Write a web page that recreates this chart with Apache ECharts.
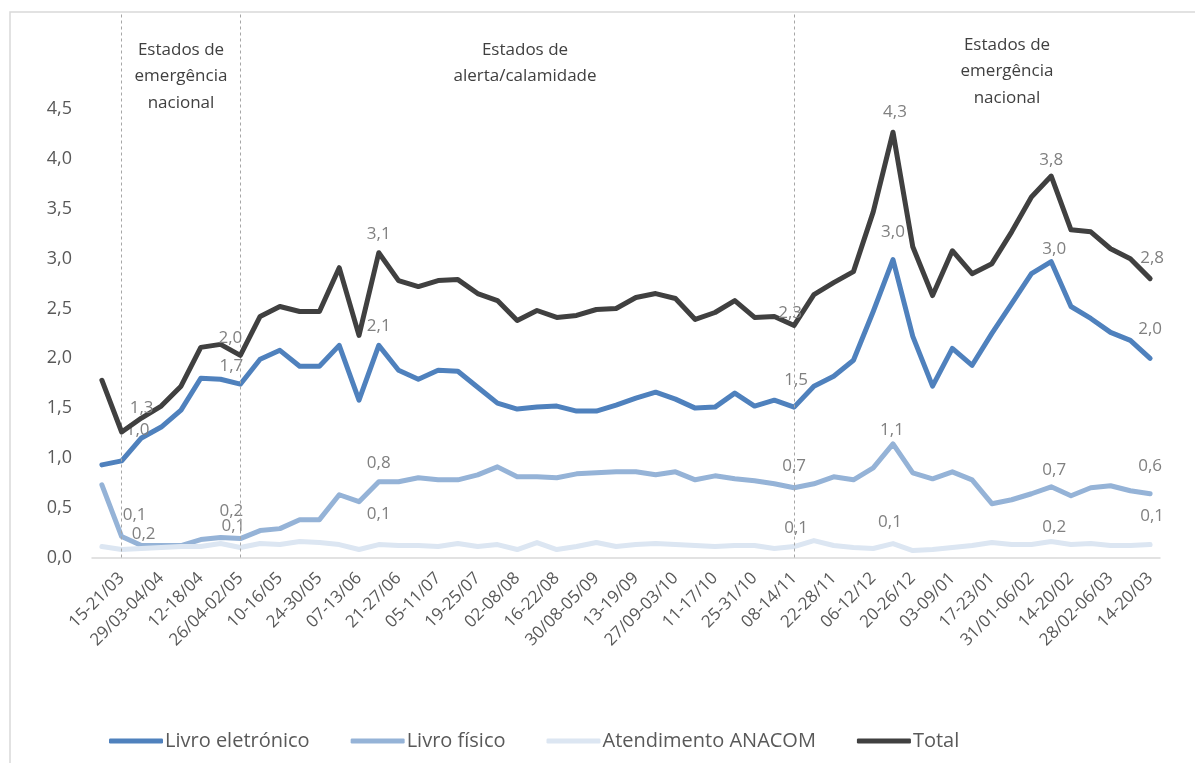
<!DOCTYPE html>
<html>
<head>
<meta charset="utf-8">
<script src="https://cdn.jsdelivr.net/npm/echarts@6/dist/echarts.min.js"></script>
<style>
html,body{margin:0;padding:0;background:#fff;}
#chart{width:1195px;height:763px;}
</style>
</head>
<body>
<div id="chart"></div>
<script>
// ---- data ----
const categories = ["08-14/03","15-21/03","22-28/03","29/03-04/04","05-11/04","12-18/04","19-25/04","26/04-02/05","03-09/05","10-16/05","17-23/05","24-30/05","31/05-06/06","07-13/06","14-20/06","21-27/06","28/06-04/07","05-11/07","12-18/07","19-25/07","26/07-01/08","02-08/08","09-15/08","16-22/08","23-29/08","30/08-05/09","06-12/09","13-19/09","20-26/09","27/09-03/10","04-10/10","11-17/10","18-24/10","25-31/10","01-07/11","08-14/11","15-21/11","22-28/11","29/11-05/12","06-12/12","13-19/12","20-26/12","27/12-02/01","03-09/01","10-16/01","17-23/01","24-30/01","31/01-06/02","07-13/02","14-20/02","21-27/02","28/02-06/03","07-13/03","14-20/03"];

const livroEletronico = [0.93,0.97,1.20,1.31,1.48,1.80,1.79,1.74,1.99,2.08,1.92,1.92,2.13,1.58,2.13,1.88,1.79,1.88,1.87,1.71,1.55,1.49,1.51,1.52,1.47,1.47,1.53,1.60,1.66,1.59,1.50,1.51,1.65,1.52,1.58,1.51,1.72,1.82,1.98,2.47,2.99,2.22,1.72,2.10,1.93,2.25,2.55,2.85,2.97,2.52,2.40,2.26,2.18,2.00];

const livroFisico = [0.73,0.21,0.12,0.12,0.12,0.18,0.20,0.19,0.27,0.29,0.38,0.38,0.63,0.56,0.76,0.76,0.80,0.78,0.78,0.83,0.91,0.81,0.81,0.80,0.84,0.85,0.86,0.86,0.83,0.86,0.78,0.82,0.79,0.77,0.74,0.70,0.74,0.81,0.78,0.90,1.14,0.85,0.79,0.86,0.78,0.54,0.58,0.64,0.71,0.62,0.70,0.72,0.67,0.64];

const atendimentoAnacom = [0.11,0.08,0.09,0.10,0.11,0.11,0.14,0.10,0.14,0.13,0.16,0.15,0.13,0.08,0.13,0.12,0.12,0.11,0.14,0.11,0.13,0.08,0.15,0.08,0.11,0.15,0.11,0.13,0.14,0.13,0.12,0.11,0.12,0.12,0.09,0.11,0.17,0.12,0.10,0.09,0.14,0.07,0.08,0.10,0.12,0.15,0.13,0.13,0.16,0.13,0.14,0.12,0.12,0.13];

const total = [1.78,1.26,1.40,1.52,1.72,2.11,2.14,2.03,2.42,2.52,2.47,2.47,2.91,2.23,3.06,2.78,2.72,2.78,2.79,2.65,2.58,2.38,2.48,2.41,2.43,2.49,2.50,2.61,2.65,2.60,2.39,2.46,2.58,2.41,2.42,2.33,2.64,2.76,2.87,3.47,4.27,3.12,2.63,3.08,2.85,2.95,3.27,3.62,3.83,3.29,3.27,3.10,3.00,2.80];

const yTicks = [0,0.5,1,1.5,2,2.5,3,3.5,4,4.5];
const labeledIdx = [1,7,14,35,40,48,53];
const phaseBoundaries = [1,7,35];
const seriesNames = ["Livro eletrónico","Livro físico","Atendimento ANACOM","Total"];

// ---- styling (label offsets per series, in px) ----
const labelOffsets = [
  [[16,-31],[-9,-18],[0,-19],[2,-27],[0,-28],[3,-13],[0,-29]],
  [[22,-2],[-9,-27],[0,-19],[0,-22],[-1,-14],[3,-17],[0,-28]],
  [[13,-34],[-7,-21],[0,-30],[2,-18],[-3,-21],[3,-14],[2,-28]],
  [[20,-24],[-10,-17],[0,-19],[-4,-12],[2,-20],[0,-16],[2,-20]]
];
const colors = ['#4F81BD','#95B3D7','#DCE6F2','#404040'];
const FONT = '"Open Sans", "Noto Sans", sans-serif';

function fmt(v){ return v.toFixed(1).replace('.', ','); }

function buildData(values, sIdx){
  return values.map((v,i)=>{
    const k = labeledIdx.indexOf(i);
    if (k < 0) return v;
    return {value: v, label: {show: true, offset: labelOffsets[sIdx][k]}};
  });
}

const allSeries = [livroEletronico, livroFisico, atendimentoAnacom, total].map((vals, s)=>({
  name: seriesNames[s],
  type: 'line',
  data: buildData(vals, s),
  showSymbol: true,
  showAllSymbol: true,
  symbol: 'circle',
  symbolSize: 1,
  itemStyle: {color: colors[s]},
  lineStyle: {color: colors[s], width: 5, cap: 'round', join: 'round'},
  label: {
    show: false,
    position: 'inside',
    formatter: p => fmt(p.value),
    color: '#808080',
    fontSize: 17,
    fontFamily: FONT
  },
  emphasis: {disabled: true},
  animation: false,
  z: 2 + s
}));

allSeries[0].markLine = {
  silent: true,
  symbol: 'none',
  label: {show: false},
  lineStyle: {color: '#a6a6a6', type: [3,3], width: 1},
  data: phaseBoundaries.map(i => ({xAxis: i})),
  animation: false
};

const annoStyle = {fill: '#404040', font: '17px ' + FONT, textAlign: 'center', textVerticalAlign: 'middle'};
function annoText(lines, x, y0){
  return lines.map((t,k)=>({type:'text', x: x, y: y0 + k*26.5, style: Object.assign({text: t}, annoStyle), silent: true}));
}

const chart = echarts.init(document.getElementById('chart'), null, {renderer: 'canvas'});
chart.setOption({
  animation: false,
  backgroundColor: '#fff',
  grid: {left: 92, right: 35, top: 12, bottom: 205.5, containLabel: false},
  xAxis: {
    type: 'category',
    data: categories,
    boundaryGap: true,
    axisLine: {lineStyle: {color: '#d9d9d9', width: 1.5}},
    axisTick: {show: false},
    axisLabel: {
      interval: (i) => i % 2 === 1,
      rotate: 45,
      margin: 18,
      color: '#595959',
      fontSize: 17,
      fontFamily: FONT
    },
    splitLine: {show: false}
  },
  yAxis: {
    type: 'value',
    min: 0,
    max: 5.477,
    interval: 0.5,
    axisLine: {show: false},
    axisTick: {show: false},
    splitLine: {show: false},
    axisLabel: {
      margin: 20,
      color: '#595959',
      fontSize: 18,
      fontFamily: FONT,
      formatter: v => (yTicks.some(t => Math.abs(t - v) < 1e-6) ? fmt(v) : '')
    }
  },
  legend: {
    data: seriesNames,
    left: 104,
    top: 726,
    icon: 'roundRect',
    itemWidth: 54,
    itemHeight: 5,
    itemGap: 41,
    textStyle: {color: '#595959', fontSize: 20, fontFamily: FONT, padding: [0,0,0,-3]}
  },
  graphic: [
    {type: 'rect', shape: {x: 10, y: 12, width: 1220, height: 800}, style: {fill: 'none', stroke: '#d9d9d9', lineWidth: 1.5}, silent: true, z: -1},
    ...annoText(['Estados de','emergência','nacional'], 181, 50),
    ...annoText(['Estados de','alerta/calamidade'], 525, 50),
    ...annoText(['Estados de','emergência','nacional'], 1007, 45)
  ],
  series: allSeries
});
</script>
</body>
</html>
